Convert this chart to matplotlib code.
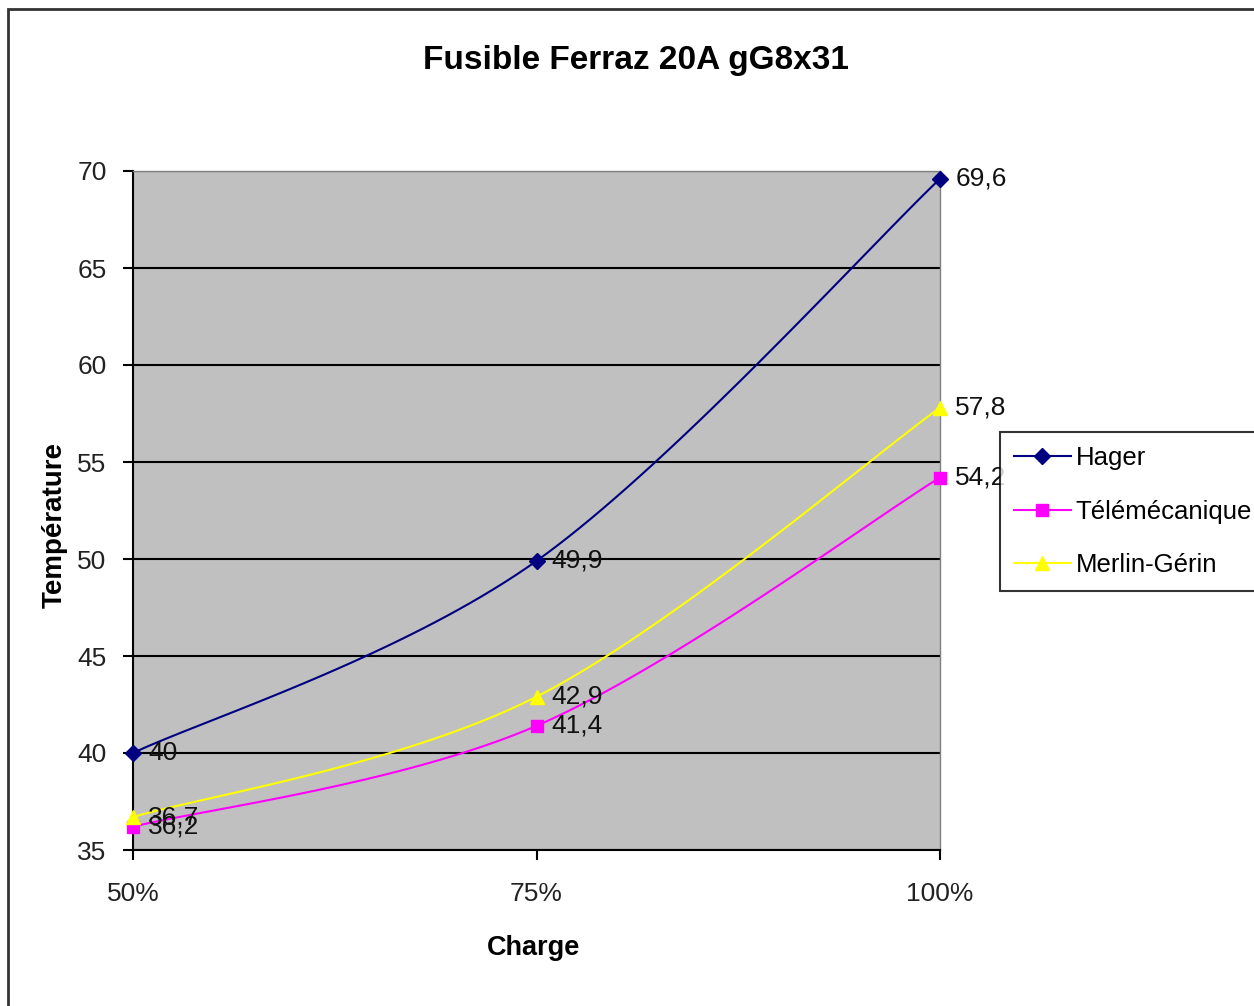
import numpy as np
import matplotlib.pyplot as plt
from matplotlib.patches import Rectangle

plt.rcParams['font.family'] = ['Liberation Sans', 'DejaVu Sans']

# données
charges = ['50%', '75%', '100%']
hager = [40, 49.9, 69.6]
telemecanique = [36.2, 41.4, 54.2]
merlin_gerin = [36.7, 42.9, 57.8]
labels_hager = ['40', '49,9', '69,6']
labels_tele = ['36,2', '41,4', '54,2']
labels_merlin = ['36,7', '42,9', '57,8']


def lissage(x, y, n=40):
    # courbe lissée type Excel (Bezier / Catmull-Rom)
    x = np.asarray(x, float)
    y = np.asarray(y, float)
    pts = np.column_stack([x, y])
    out = []
    for i in range(len(pts) - 1):
        p0 = pts[i - 1] if i > 0 else pts[i]
        p1 = pts[i]
        p2 = pts[i + 1]
        p3 = pts[i + 2] if i + 2 < len(pts) else pts[i + 1]
        c1 = p1 + (p2 - p0) / 6
        c2 = p2 - (p3 - p1) / 6
        t = np.linspace(0, 1, n)[:, None]
        seg = ((1 - t) ** 3) * p1 + 3 * ((1 - t) ** 2) * t * c1 + 3 * (1 - t) * t ** 2 * c2 + t ** 3 * p2
        out.append(seg if i == 0 else seg[1:])
    s = np.vstack(out)
    return s[:, 0], s[:, 1]


fig = plt.figure(figsize=(12.54, 10.06), dpi=100)
ax = fig.add_axes([133 / 1254, 1 - 850 / 1006, (940 - 133) / 1254, (850 - 171) / 1006])
ax.set_facecolor('#C0C0C0')

xs = np.arange(len(charges))
series = [
    (hager, labels_hager, '#000080', 'D', 'Hager', 8),
    (telemecanique, labels_tele, '#FF00FF', 's', 'Télémécanique', 8),
    (merlin_gerin, labels_merlin, '#FFFF00', '^', 'Merlin-Gérin', 10),
]
handles = []
for vals, labs, col, mk, nom, ms in series:
    sx, sy = lissage(xs, vals)
    ax.plot(sx, sy, color=col, lw=1.5, zorder=3, clip_on=False)
    ax.plot(xs, vals, linestyle='None', marker=mk, color=col, ms=ms, zorder=4, clip_on=False)
    h, = ax.plot([], [], color=col, lw=1.5, marker=mk, ms=ms, label=nom)
    handles.append(h)
    for xi, v, lab in zip(xs, vals, labs):
        ax.annotate(lab, (xi, v), xytext=(11, 0), textcoords='offset points',
                    va='center', ha='left', fontsize=19, color='#111111', zorder=5)

ax.set_xlim(0, 2)
ax.set_ylim(35, 70)
ax.set_yticks(np.arange(35, 71, 5))
ax.set_xticks(xs)
ax.set_xticklabels(charges)
ax.yaxis.grid(True, color='black', lw=1.5)
ax.set_axisbelow(True)
ax.tick_params(axis='both', direction='out', length=7, width=1.5, labelsize=19,
               colors='black', labelcolor='#222222')
ax.tick_params(axis='x', pad=16)
ax.tick_params(axis='y', pad=12)
for s in ['left', 'bottom']:
    ax.spines[s].set_linewidth(1.5)
    ax.spines[s].set_color('black')
for s in ['top', 'right']:
    ax.spines[s].set_color('#808080')
    ax.spines[s].set_linewidth(1)

fig.text(636 / 1254, 1 - 60 / 1006, 'Fusible Ferraz 20A gG8x31', ha='center', va='center',
         fontsize=24, fontweight='bold')
fig.text(55 / 1254, 1 - 525 / 1006, 'Température', ha='center', va='center',
         rotation=90, fontsize=20, fontweight='bold')
fig.text(533 / 1254, 1 - 948 / 1006, 'Charge', ha='center', va='center',
         fontsize=19.5, fontweight='bold')

leg = fig.legend(handles=handles, loc='upper left', bbox_to_anchor=(1000 / 1254, 1 - 432 / 1006),
                 fontsize=18.5, frameon=True, fancybox=False, edgecolor='black',
                 handlelength=2.2, labelspacing=1.15, borderpad=0.55, handletextpad=0.2,
                 borderaxespad=0)
leg.get_frame().set_linewidth(1.5)

fig.patches.append(Rectangle((8 / 1254, -0.1), 1.2, 1 - 9 / 1006 + 0.1, transform=fig.transFigure,
                             fill=False, edgecolor='#333333', lw=2))

fig.savefig('out.png', dpi=100)
